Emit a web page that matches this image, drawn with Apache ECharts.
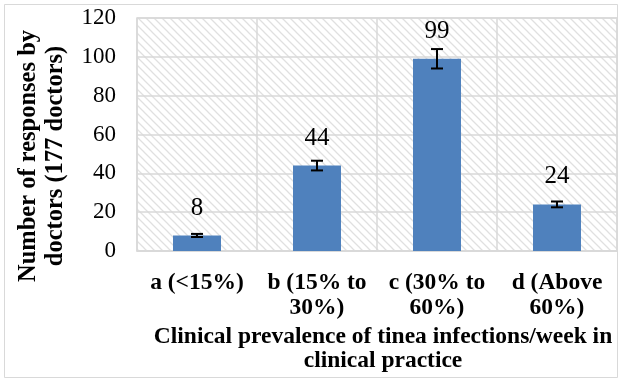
<!DOCTYPE html>
<html><head><meta charset="utf-8">
<script src="https://cdn.jsdelivr.net/npm/echarts@6/dist/echarts.min.js"></script>
<style>html,body{margin:0;padding:0;background:#fff}#c{width:620px;height:380px}</style>
</head><body><div id="c"></div>
<script>
const categories = ['a (<15%)', 'b (15% to\n30%)', 'c (30% to\n60%)', 'd (Above\n60%)'];
const values = [8, 44, 99, 24];
const errors = [0.8, 2.5, 5, 1.5];
const yTicks = [0, 20, 40, 60, 80, 100, 120];
const yTitle = 'Number of responses by\ndoctors (177 doctors)';
const xTitle = 'Clinical prevalence of tinea infections/week in\nclinical practice';

const FONT = '"Liberation Serif", "Times New Roman", serif';

const pc = document.createElement('canvas');
pc.width = 8; pc.height = 8;
const g = pc.getContext('2d');
g.fillStyle = '#fff'; g.fillRect(0,0,8,8);
g.strokeStyle = '#e0e0e0'; g.lineWidth = 1.3;
g.beginPath();
g.moveTo(-1,-1); g.lineTo(9,9);
g.moveTo(-1,7); g.lineTo(1,9);
g.moveTo(7,-1); g.lineTo(9,1);
g.stroke();

const chart = echarts.init(document.getElementById('c'));
chart.setOption({
  animation: false,
  backgroundColor: '#fff',
  graphic: [
    {type:'rect', shape:{x:4.5,y:4.5,width:613,height:373}, style:{fill:'none', stroke:'#d9d9d9', lineWidth:1}, z:-10},
    {type:'text', x:42, y:156, rotation:Math.PI/2,
     style:{text:yTitle, fontFamily:FONT, fontWeight:'bold', fontSize:24.5, lineHeight:27, fill:'#000', align:'center', verticalAlign:'middle'}}
  ],
  grid: {left:137, right:3, top:18, bottom:129, show:true, backgroundColor:{image:pc, repeat:'repeat'}, borderColor:'#d9d9d9', borderWidth:1.5},
  xAxis: {
    type:'category', data: categories,
    axisLine:{show:true, lineStyle:{color:'#d9d9d9', width:1.5}},
    axisTick:{show:false},
    splitLine:{show:true, lineStyle:{color:'#d9d9d9', width:1.5}},
    axisLabel:{fontFamily:FONT, fontWeight:'bold', fontSize:23.5, color:'#000', lineHeight:25, margin:19, interval:0},
    name: xTitle, nameLocation:'middle', nameGap:63,
    nameTextStyle:{fontFamily:FONT, fontWeight:'bold', fontSize:23.5, color:'#000', lineHeight:24, padding:[0,0,0,12]}
  },
  yAxis: {
    type:'value', min:0, max:120, interval:20,
    axisLine:{show:false}, axisTick:{show:false},
    splitLine:{lineStyle:{color:'#d9d9d9', width:1.5}},
    axisLabel:{fontFamily:FONT, fontSize:23, color:'#000', margin:21,
      formatter: v => yTicks.includes(v) ? String(v) : ''}
  },
  series: [
    {type:'bar', data: values, barWidth:48, itemStyle:{color:'#4f81bd'}, z:2},
    {type:'custom', z:5, data: values.map((v,i)=>[i, v, errors[i]]),
     renderItem: function(params, api){
       const x = api.value(0), v = api.value(1), e = api.value(2);
       const top = api.coord([x, v+e]);
       const bot = api.coord([x, v-e]);
       const barTop = api.coord([x, v]);
       const cx = top[0], hw = 6;
       const st = {stroke:'#000', lineWidth:2};
       return {type:'group', children:[
         {type:'line', shape:{x1:cx,y1:top[1],x2:cx,y2:bot[1]}, style:st},
         {type:'line', shape:{x1:cx-hw,y1:top[1],x2:cx+hw,y2:top[1]}, style:st},
         {type:'line', shape:{x1:cx-hw,y1:bot[1],x2:cx+hw,y2:bot[1]}, style:st},
         {type:'text', x:cx, y:barTop[1]-15, style:{text:String(v), fontFamily:FONT, fontSize:25, fill:'#000', align:'center', verticalAlign:'bottom'}}
       ]};
     }}
  ]
});
</script></body></html>
